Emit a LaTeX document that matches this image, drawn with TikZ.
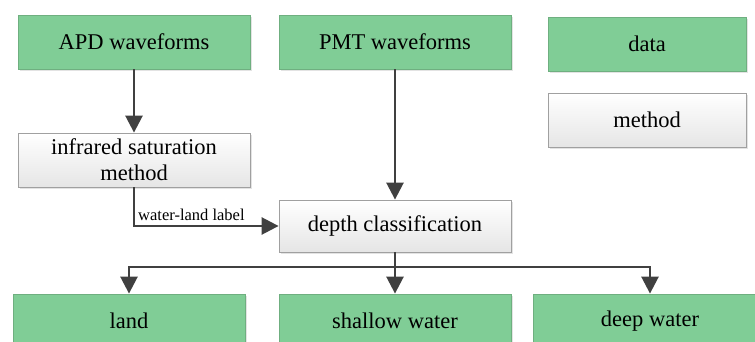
\documentclass[tikz,border=0pt]{standalone}
\usepackage{fontspec}
\setmainfont{Liberation Serif}
\usetikzlibrary{arrows.meta,shadows}
\definecolor{boxgreen}{HTML}{80CD96}
\definecolor{greenedge}{HTML}{6FAF80}
\definecolor{edgegray}{HTML}{A0A0A0}
\definecolor{arrgray}{HTML}{404040}
\tikzset{
  base/.style={rectangle, minimum height=54pt, inner sep=0pt, align=center,
    font=\fontsize{22.5}{26}\selectfont,
    drop shadow={shadow xshift=2pt, shadow yshift=-2pt, fill=black!18, opacity=0.6}},
  databox/.style={base, fill=boxgreen, draw=greenedge, line width=0.8pt},
  methbox/.style={base, draw=edgegray, line width=0.8pt, top color=white, bottom color=black!10},
  conn/.style={draw=arrgray, line width=2.6pt},
  arr/.style={conn, -{Triangle[length=17pt,width=17pt]}},
  lblstyle/.style={font=\fontsize{16.5}{18}\selectfont, inner sep=1pt, anchor=south west},
}
\begin{document}
\begin{tikzpicture}[x=1pt,y=-1pt]
\useasboundingbox (0,0) rectangle (755,342);
\node[databox, minimum width=232pt] (apd) at (134,42) {APD waveforms};
\node[databox, minimum width=232pt] (pmt) at (395,42) {PMT waveforms};
\node[databox, minimum width=198pt] (data) at (647,44) {data};
\node[methbox, minimum width=198pt] (method) at (647,120) {method};
\node[methbox, minimum width=232pt] (ir) at (134,160) {infrared saturation\\method};
\node[methbox, minimum width=232pt, minimum height=52pt] (depth) at (395,226) {depth classification};
\node[databox, minimum width=232pt] (land) at (129,321) {land};
\node[databox, minimum width=232pt] (shallow) at (395,321) {shallow water};
\node[databox, minimum width=234pt] (deep) at (650,321) {deep water};
\coordinate (split) at (395,267);
\node[lblstyle] (lbl) at ([xshift=3pt,yshift=4pt]ir.south |- depth.west) {water-land label};
\draw[arr] (apd) -- (ir);
\draw[arr] (pmt) -- (depth);
\draw[arr] (ir.south) |- (depth.west);
\draw[conn] (depth.south) -- (split);
\draw[arr] (split) -| (land.north);
\draw[arr] (split) -- (shallow.north);
\draw[arr] (split) -| (deep.north);
\end{tikzpicture}
\end{document}
